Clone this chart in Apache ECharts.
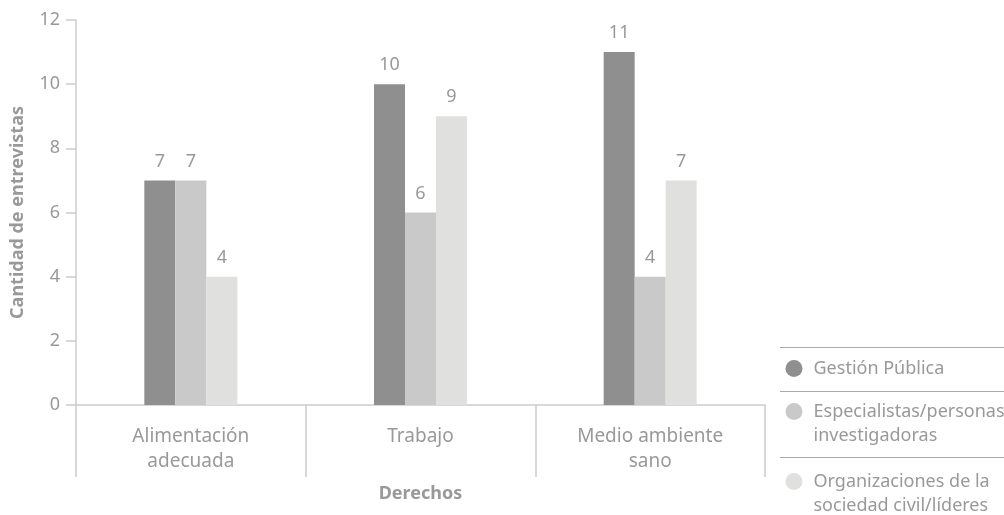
<!DOCTYPE html>
<html lang="es">
<head>
<meta charset="utf-8">
<title>Cantidad de entrevistas por derecho</title>
<script src="https://cdn.jsdelivr.net/npm/echarts@6/dist/echarts.min.js"></script>
<style>
  html, body { margin: 0; padding: 0; background: #ffffff; }
  #chart { width: 1004px; height: 515px; }
</style>
</head>
<body>
<div id="chart"></div>
<script>
// Derechos (categorías del eje X)
const categories = ['Alimentación\nadecuada', 'Trabajo', 'Medio ambiente\nsano'];

// Tipos de persona entrevistada
const seriesNames = [
  'Gestión Pública',
  'Especialistas/personas\ninvestigadoras',
  'Organizaciones de la\nsociedad civil/líderes'
];

// Número de entrevistas por derecho
const gestionPublica = [7, 10, 11];
const especialistas = [7, 6, 4];
const organizaciones = [4, 9, 7];

// Escala del eje Y
const yMin = 0;
const yMax = 12;
const yStep = 2;

const FONT = 'Noto Sans';
const TEXT = '#999999';
const LINE = '#cccccc';
const colors = ['#8f8f8f', '#c9c9c9', '#e0e0de'];

const seriesData = [gestionPublica, especialistas, organizaciones];

const chart = echarts.init(document.getElementById('chart'), null, { renderer: 'canvas' });

// Cada entrada de la leyenda va en su propio bloque, separado por líneas.
// En los nombres de dos líneas se antepone una línea en blanco para que
// el círculo quede alineado con la primera línea del texto.
const legendTops = [356.5, 375.5, 445.5];
const legends = seriesNames.map((name, i) => ({
  data: [name],
  orient: 'vertical',
  left: 785.5,
  top: legendTops[i],
  padding: 0,
  icon: 'circle',
  itemWidth: 17,
  itemHeight: 17,
  selectedMode: false,
  formatter: n => (n.indexOf('\n') >= 0 ? ' \n' + n : n),
  textStyle: {
    fontFamily: FONT,
    fontSize: 18,
    color: TEXT,
    lineHeight: 24,
    padding: [0, 0, 0, 6]
  }
}));

const option = {
  animation: false,
  backgroundColor: '#ffffff',
  textStyle: { fontFamily: FONT },
  grid: { left: 76, right: 239, top: 20, bottom: 110, containLabel: false },
  legend: legends,
  graphic: [347.5, 391.5, 457.5].map(y => ({
    type: 'line',
    silent: true,
    shape: { x1: 780, y1: y, x2: 1004, y2: y },
    style: { stroke: '#aaaaaa', lineWidth: 1 }
  })),
  xAxis: {
    type: 'category',
    data: categories,
    boundaryGap: true,
    name: 'Derechos',
    nameLocation: 'middle',
    nameGap: 80,
    nameTextStyle: { fontFamily: FONT, fontSize: 18, fontWeight: 'bold', color: TEXT },
    axisLine: { show: true, lineStyle: { color: LINE, width: 1.5 } },
    axisTick: { show: true, length: 72, lineStyle: { color: LINE, width: 1.5 } },
    axisLabel: {
      fontFamily: FONT,
      fontSize: 19,
      color: TEXT,
      lineHeight: 25,
      margin: 19,
      interval: 0
    },
    splitLine: { show: false }
  },
  yAxis: {
    type: 'value',
    min: yMin,
    max: yMax,
    interval: yStep,
    name: 'Cantidad de entrevistas',
    nameLocation: 'middle',
    nameGap: 49,
    nameTextStyle: { fontFamily: FONT, fontSize: 18, fontWeight: 'bold', color: TEXT },
    axisLine: { show: true, lineStyle: { color: LINE, width: 1.5 } },
    axisTick: { show: true, length: 10, lineStyle: { color: LINE, width: 1.5 } },
    axisLabel: { fontFamily: FONT, fontSize: 18, color: TEXT, margin: 16 },
    splitLine: { show: false }
  },
  series: seriesNames.map((name, i) => ({
    name: name,
    type: 'bar',
    data: seriesData[i],
    barWidth: 31,
    barGap: '0%',
    itemStyle: { color: colors[i] },
    label: {
      show: true,
      position: 'top',
      distance: 10,
      fontFamily: FONT,
      fontSize: 18,
      color: TEXT
    }
  }))
};

chart.setOption(option);
</script>
</body>
</html>
